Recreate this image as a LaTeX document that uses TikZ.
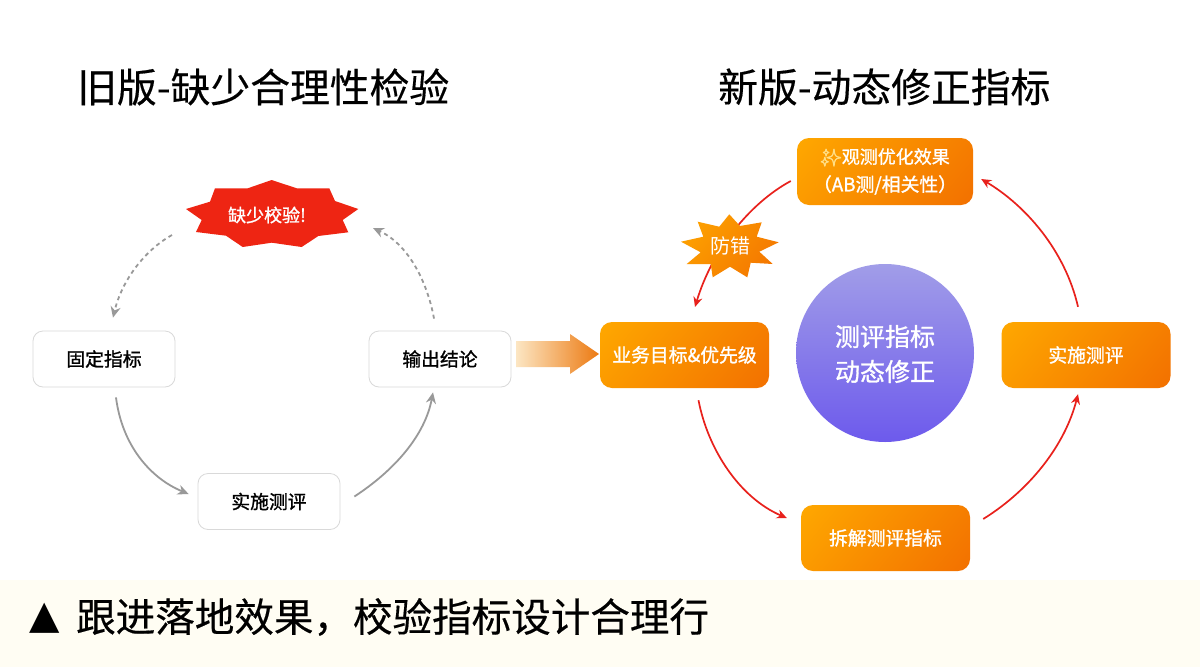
\documentclass[tikz,border=0pt]{standalone}
\usepackage{fontspec}
\setmainfont{Noto Sans CJK SC}
\newfontfamily\emojifont[FakeBold=2.5]{Noto Emoji}
\newfontfamily\symfont{DejaVu Sans}
\newfontfamily\medfont[FakeBold=1.2]{Noto Sans CJK SC}
\newfontfamily\titlefont[FakeBold=0.4]{Noto Sans CJK SC}
\usetikzlibrary{arrows.meta,calc}
\definecolor{boxline}{HTML}{D9D9D9}
\definecolor{greyline}{HTML}{999999}
\definecolor{redline}{HTML}{E8211C}
\definecolor{orA}{HTML}{FFAA00}
\definecolor{orB}{HTML}{F26E00}
\definecolor{burstred}{HTML}{EE2513}
\definecolor{band}{HTML}{FFFDF3}
\definecolor{spark}{HTML}{FFDE85}
\pgfdeclareverticalshading{orgrad}{100bp}{color(0bp)=(orB); color(12bp)=(orB); color(88bp)=(orA); color(100bp)=(orA)}
\newcommand{\fs}[1]{\fontsize{#1}{#1}\selectfont}
\tikzset{
  plainbox/.style={draw=boxline,line width=0.8pt,fill=white,rounded corners=10pt,minimum width=142pt,minimum height=56pt,inner sep=0pt,font=\medfont\fs{18.8},text=black},
  orbox/.style={rounded corners=12pt,minimum width=169pt,minimum height=66pt,inner sep=0pt,font=\medfont\fs{18.8},text=white,align=center,shade,shading=orgrad,shading angle=50},
  greyarrow/.style={draw=greyline,line width=1.8pt,-{Stealth[length=11pt,width=10pt]}},
  dasharrow/.style={greyarrow,dash pattern=on 4pt off 3.5pt},
  redarrow/.style={draw=redline,line width=1.7pt,-{Stealth[length=10pt,width=9pt]}},
  title/.style={font=\titlefont\fs{39.8},text=black,inner sep=0pt,anchor=west},
  bursttext/.style={inner sep=0pt,text=white}
}
\begin{document}
\begin{tikzpicture}[x=1pt,y=-1pt]
\useasboundingbox (0,0) rectangle (1200,667);
\fill[white] (0,0) rectangle (1200,667);
\fill[band] (0,580) rectangle (1200,667);

\node[title] (oldtitle) at (77,87) {旧版-缺少合理性检验};
\node[title] (newtitle) at (718,87) {新版-动态修正指标};
\node[inner sep=0pt,anchor=west] (tri) at (29,618) {\symfont\fs{39.5}▲};
\node[title,font=\titlefont\fs{39.55}] (bottom) at (76,617) {跟进落地效果，校验指标设计合理行};

% left cycle
\node[plainbox] (fixed) at (104,359) {固定指标};
\node[plainbox] (impl) at (269,501.5) {实施测评};
\node[plainbox] (out) at (440,359) {输出结论};
\fill[burstred] (271.7,180)--(296.7,188.3)--(329.3,188.3)--(335,201)--(358.3,209)--(342.7,220)--(348.3,232.3)--(318.3,236)--(301.7,247)--(271.7,242.7)--(242.7,247)--(226,235.7)--(196,232)--(201.7,220)--(186,209)--(210,201.7)--(215,188.3)--(247.7,188.3)--cycle;
\node[bursttext,font=\medfont\fs{18}] (miss) at (267,215) {缺少校验!};
\coordinate (missL) at (172,235);
\coordinate (missR) at (373,228);

\draw[greyarrow] ([shift={(12,10)}]fixed.south) .. controls (122,445) and (150,478) .. ([shift={(-9,-7.5)}]impl.west);
\draw[greyarrow] ([shift={(14,-5)}]impl.east) .. controls (395,470) and (425,435) .. ([shift={(-7,5)}]out.south);
\draw[dasharrow] ([shift={(-6,-12)}]out.north) .. controls (428,285) and (410,245) .. (missR);
\draw[dasharrow] (missL) .. controls (145,250) and (122,280) .. ([shift={(9,-13)}]fixed.north);

% transfer arrow
\shade[left color={rgb,255:red,252;green,230;blue,195},right color={rgb,255:red,236;green,122;blue,18}] (516,341)--(570,341)--(570,334)--(599,354)--(570,374)--(570,367)--(516,367)--cycle;

% right cycle
\node[orbox,minimum width=176pt,minimum height=67pt] (obs) at (885,171.5) {{\emojifont\fs{17}\textcolor{spark}{✨}}\fs{18}观测优化效果\\[8pt]\fs{18.8}（AB测/相关性）};
\node[orbox] (goal) at (684.5,355) {业务目标\&优先级};
\node[orbox] (run) at (1086,355) {实施测评};
\node[orbox] (split) at (885.5,538) {拆解测评指标};
\shade[top color={rgb,255:red,161;green,157;blue,232},bottom color={rgb,255:red,109;green,90;blue,236}] (885,353) circle (89);
\node[inner sep=0pt,text=white,font=\medfont\fs{25},align=center] (core) at (885,354) {测评指标\\[10pt]动态修正};

\draw[redarrow] (obs.west|-0,181) ++(-6,0) .. controls (750,203) and (712,250) .. (695,307);
\draw[redarrow] ([shift={(14,12)}]goal.south) .. controls (708,450) and (740,498) .. ([shift={(-14,-20)}]split.west);
\draw[redarrow] ([shift={(13,-19)}]split.east) .. controls (1030,490) and (1065,445) .. ([shift={(-8,6)}]run.south);
\draw[redarrow] ([shift={(-8,-15)}]run.north) .. controls (1065,250) and (1025,205) .. ([shift={(8,7.5)}]obs.east);

\shade[shading=orgrad,shading angle=50] (729.3,214.3)--(740,226)--(761.7,222.3)--(756.7,236.7)--(778.7,242.3)--(759.3,251.7)--(772.7,264)--(750.7,262.7)--(747.3,277.3)--(730,266.7)--(712.7,277.3)--(710.7,264)--(686.7,264)--(700.7,252.3)--(681,241.7)--(703.3,236.7)--(697.7,221.7)--(719.3,226.7)--cycle;
\node[bursttext,font=\fs{20}] (guard) at (730,246) {防错};
\end{tikzpicture}
\end{document}
